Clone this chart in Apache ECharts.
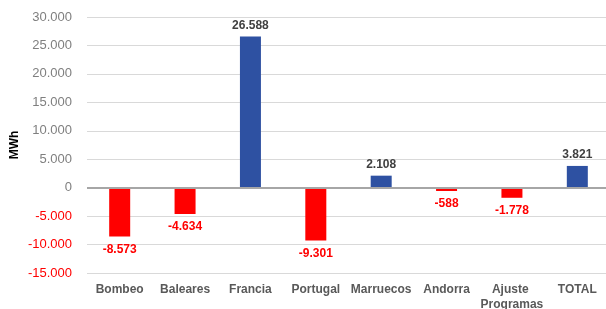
<!DOCTYPE html>
<html>
<head>
<meta charset="utf-8">
<script src="https://cdn.jsdelivr.net/npm/echarts@6/dist/echarts.min.js"></script>
<style>
  html, body { margin: 0; padding: 0; background: #fff; }
  #chart { width: 606px; height: 309px; }
</style>
</head>
<body>
<div id="chart"></div>
<script>
// categorias y valores (MWh)
const categories = ['Bombeo', 'Baleares', 'Francia', 'Portugal', 'Marruecos', 'Andorra', 'Ajuste Programas', 'TOTAL'];
const values = [-8573, -4634, 26588, -9301, 2108, -588, -1778, 3821];
const yMin = -15000;
const yMax = 30000;
const yStep = 5000;

const BLUE = '#2E51A2';
const RED = '#FF0000';

// formato con punto de miles
function fmt(v) {
  const s = Math.abs(v).toString().replace(/\B(?=(\d{3})+(?!\d))/g, '.');
  return (v < 0 ? '-' : '') + s;
}

const barData = values.map(function (v) {
  return {
    value: v,
    itemStyle: { color: v < 0 ? RED : BLUE },
    label: {
      position: v < 0 ? 'bottom' : 'top',
      distance: v < 0 ? 7 : 5,
      color: v < 0 ? RED : '#404040'
    }
  };
});

const chart = echarts.init(document.getElementById('chart'));
chart.setOption({
  animation: false,
  textStyle: { fontFamily: 'Liberation Sans, Arial, sans-serif' },
  grid: { left: 87, right: -4, top: 17, bottom: 36, outerBoundsMode: 'none', containLabel: false },
  xAxis: {
    type: 'category',
    data: categories,
    axisLine: { show: false },
    axisTick: { show: false },
    axisLabel: {
      interval: 0,
      margin: 9,
      fontSize: 12,
      fontWeight: 'bold',
      color: '#595959',
      width: 75,
      overflow: 'break',
      lineHeight: 15
    }
  },
  yAxis: {
    type: 'value',
    min: yMin,
    max: yMax,
    interval: yStep,
    name: 'MWh',
    nameLocation: 'middle',
    nameGap: 66,
    nameMoveOverlap: false,
    nameTextStyle: { fontWeight: 'bold', fontSize: 12, color: '#000' },
    axisLine: { show: false },
    axisTick: { show: false },
    splitLine: { lineStyle: { color: '#D9D9D9', width: 1 } },
    axisLabel: {
      fontSize: 13,
      margin: 15,
      formatter: fmt,
      color: function (v) { return Number(v) < 0 ? RED : '#7F7F7F'; }
    }
  },
  series: [{
    type: 'bar',
    data: barData,
    barWidth: 21,
    label: {
      show: true,
      fontSize: 12,
      fontWeight: 'bold',
      formatter: function (p) { return fmt(p.value); }
    },
    markLine: {
      silent: true,
      symbol: 'none',
      label: { show: false },
      lineStyle: { color: '#A6A6A6', width: 2, type: 'solid' },
      data: [{ yAxis: 0 }]
    }
  }]
});
</script>
</body>
</html>
